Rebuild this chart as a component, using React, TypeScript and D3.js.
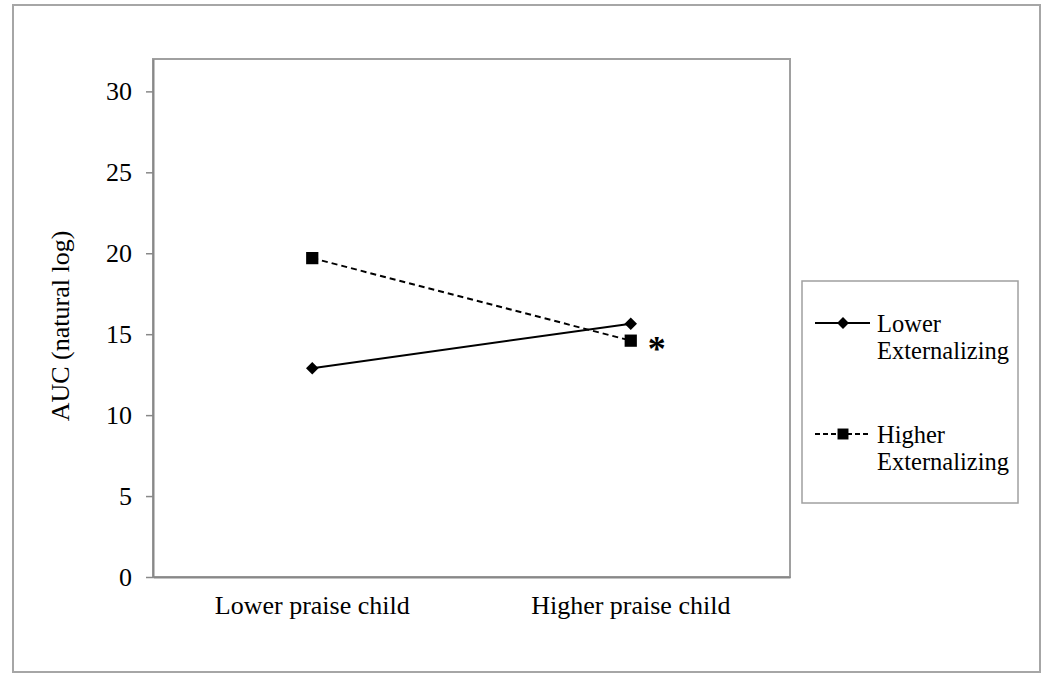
import React, { useRef, useEffect } from 'react';
import * as d3 from 'd3';

const categories = ['Lower praise child', 'Higher praise child'];
const lowerExt = [12.9, 15.65];
const higherExt = [19.7, 14.6];
const yTicks = [0, 5, 10, 15, 20, 25, 30];
const seriesNames = ['Lower Externalizing', 'Higher Externalizing'];

export default function App() {
    const svgRef = useRef<SVGSVGElement>(null);

    useEffect(() => {
        if (!svgRef.current) return;
        const width = 1050;
        const height = 680;
        const margin = { top: 59, right: 260, bottom: 103, left: 153 };
        const font = '"Liberation Serif", "Times New Roman", serif';
        const fs = 26;

        const svg = d3.select(svgRef.current)
            .attr('width', width)
            .attr('height', height)
            .attr('viewBox', `0 0 ${width} ${height}`);
        svg.selectAll('*').remove();

        svg.append('rect').attr('width', width).attr('height', height).attr('fill', 'white');

        // outer frame
        svg.append('rect')
            .attr('x', 13).attr('y', 5)
            .attr('width', 1027).attr('height', 667)
            .attr('fill', 'none').attr('stroke', '#a6a6a6').attr('stroke-width', 2);

        const x = d3.scaleBand<string>()
            .domain(categories)
            .range([margin.left, width - margin.right]);

        const y = d3.scaleLinear()
            .domain([0, 32])
            .range([height - margin.bottom, margin.top]);

        // plot area frame
        svg.append('rect')
            .attr('x', margin.left).attr('y', margin.top)
            .attr('width', width - margin.right - margin.left)
            .attr('height', height - margin.bottom - margin.top)
            .attr('fill', 'none').attr('stroke', '#a0a0a0').attr('stroke-width', 2);

        // y axis
        const yAxis = svg.append('g')
            .attr('transform', `translate(${margin.left},0)`)
            .call(d3.axisLeft(y).tickValues(yTicks).tickSize(7).tickPadding(14).tickSizeOuter(0));
        yAxis.select('.domain').attr('stroke', '#888').attr('stroke-width', 2);
        yAxis.selectAll('.tick line').attr('stroke', '#888').attr('stroke-width', 1.5);
        yAxis.selectAll('.tick text')
            .attr('font-family', font).attr('font-size', fs).attr('fill', 'black');

        // x axis
        const xAxis = svg.append('g')
            .attr('transform', `translate(0,${height - margin.bottom})`)
            .call(d3.axisBottom(x).tickSize(0).tickPadding(19).tickSizeOuter(0));
        xAxis.select('.domain').attr('stroke', '#888').attr('stroke-width', 2);
        xAxis.selectAll('.tick text')
            .attr('font-family', font).attr('font-size', fs).attr('fill', 'black');

        // y label
        svg.append('text')
            .attr('transform', `translate(69,${(margin.top + height - margin.bottom) / 2 + 8}) rotate(-90)`)
            .attr('text-anchor', 'middle')
            .attr('font-family', font).attr('font-size', fs)
            .text('AUC (natural log)');

        const cx = (i: number) => (x(categories[i]) as number) + x.bandwidth() / 2;
        const line = d3.line<number>().x((_, i) => cx(i)).y(d => y(d));

        svg.append('path').datum(lowerExt)
            .attr('d', line).attr('fill', 'none').attr('stroke', 'black').attr('stroke-width', 2);
        svg.append('path').datum(higherExt)
            .attr('d', line).attr('fill', 'none').attr('stroke', 'black').attr('stroke-width', 2)
            .attr('stroke-dasharray', '6,4');

        const diamond = d3.symbol().type(d3.symbolDiamond2).size(100);
        const square = d3.symbol().type(d3.symbolSquare).size(150);

        svg.selectAll('.m1').data(lowerExt).enter().append('path')
            .attr('d', diamond).attr('transform', (d, i) => `translate(${cx(i)},${y(d)})`)
            .attr('fill', 'black');
        svg.selectAll('.m2').data(higherExt).enter().append('path')
            .attr('d', square).attr('transform', (d, i) => `translate(${cx(i)},${y(d)})`)
            .attr('fill', 'black');

        // significance marker
        svg.append('text')
            .attr('x', cx(1) + 26).attr('y', y(higherExt[1]) + 20)
            .attr('text-anchor', 'middle')
            .attr('font-family', font).attr('font-size', 36).attr('font-weight', 'bold')
            .text('*');

        // legend
        const lg = svg.append('g');
        lg.append('rect')
            .attr('x', 802).attr('y', 281).attr('width', 216).attr('height', 222)
            .attr('fill', 'white').attr('stroke', '#a0a0a0').attr('stroke-width', 1.5);

        const legendRows = [
            { name: seriesNames[0], y: 323, dash: null, isSquare: false },
            { name: seriesNames[1], y: 434, dash: '5,3', isSquare: true },
        ];
        legendRows.forEach(r => {
            lg.append('line')
                .attr('x1', 815).attr('x2', 870).attr('y1', r.y).attr('y2', r.y)
                .attr('stroke', 'black').attr('stroke-width', 2)
                .attr('stroke-dasharray', r.dash);
            lg.append('path')
                .attr('d', r.isSquare ? d3.symbol().type(d3.symbolSquare).size(120)() : d3.symbol().type(d3.symbolDiamond2).size(90)())
                .attr('transform', `translate(843,${r.y})`).attr('fill', 'black');
            const [a, b] = r.name.split(' ');
            const t = lg.append('text')
                .attr('font-family', font).attr('font-size', 24.5).attr('fill', 'black');
            t.append('tspan').attr('x', 877).attr('y', r.y + 9).text(a);
            t.append('tspan').attr('x', 877).attr('y', r.y + 36).text(b);
        });
    }, []);

    return <svg ref={svgRef} style={{ position: 'absolute', left: 0, top: 0, display: 'block' }} />;
}
